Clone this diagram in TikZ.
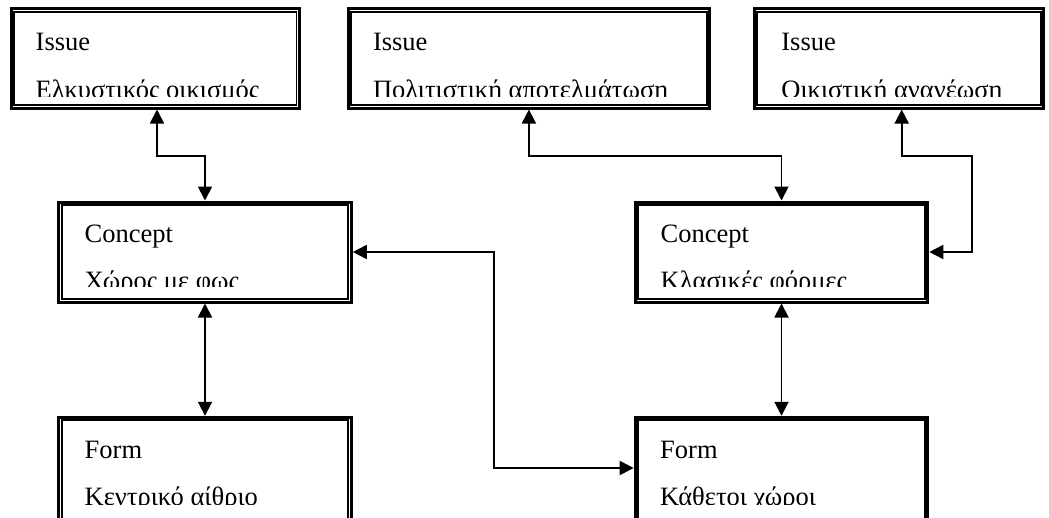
\documentclass[tikz,border=0pt]{standalone}
\usepackage{fontspec}
\setmainfont{Liberation Serif}
\usetikzlibrary{arrows.meta}

\tikzset{
  box/.style={draw, rectangle, line width=3pt, inner sep=0pt,
              minimum width=#1, minimum height=100pt},
  lbl/.style={anchor=base west, inner sep=0pt,
              font=\fontsize{26.5}{30}\selectfont},
  tip/.style={Triangle[length=14pt,width=14pt]},
  link/.style={line width=1.8pt, {Triangle[length=14pt,width=14pt]}-{Triangle[length=14pt,width=14pt]}},
}

% inner frame of a double-bordered box
\newcommand{\innerframe}[1]{%
  \draw[line width=1.7pt] ([shift={(4.5,4.5)}]#1.north west) rectangle ([shift={(-4.5,-4.5)}]#1.south east);}

\begin{document}
\begin{tikzpicture}[x=1pt, y=-1pt]
\clip (0,0) rectangle (1049,517);
\fill[white] (0,0) rectangle (1049,517);

% issue boxes
\node[box=288.2pt, minimum height=99.3pt] (i1) at (155.4,58.35) {};
\node[box=361.8pt, minimum height=99.3pt] (i2) at (528.9,58.35) {};
\node[box=289.8pt, minimum height=99.3pt] (i3) at (898.9,58.35) {};
% concept boxes
\node[box=292.6pt] (c1) at (205,252) {};
\node[box=292.6pt] (c2) at (781.5,252) {};
% form boxes, running past the lower edge
\node[box=292.6pt, minimum height=122.7pt] (f1) at (205,478.65) {};
\node[box=292.6pt, minimum height=122.7pt] (f2) at (781.5,478.65) {};

\foreach \b in {i1,i2,i3,c1,c2,f1,f2} {\innerframe{\b}}

% labels
\node[lbl] (i1a) at (35.5,50) {Issue};
\node[lbl] (i2a) at (372.8,50) {Issue};
\node[lbl] (i3a) at (781.2,50) {Issue};
\node[lbl] (c1a) at (84.5,242.3) {Concept};
\node[lbl] (c2a) at (660.5,242.3) {Concept};
\node[lbl] (f1a) at (84.5,458.3) {Form};
\node[lbl] (f2a) at (660,458.3) {Form};

% second lines, cut off above the inner frame
\begin{scope}
  \clip (0,60) rectangle (1049,96);
  \node[lbl] (i1b) at (35.5,98.5) {Ελκυστικός οικισμός};
  \node[lbl] (i2b) at (372.8,98.5) {Πολιτιστική αποτελμάτωση};
  \node[lbl] (i3b) at (781.2,98.5) {Οικιστική ανανέωση};
\end{scope}
\begin{scope}
  \clip (0,250) rectangle (1049,286);
  \node[lbl] (c1b) at (84.5,289.8) {Χώρος με φως};
  \node[lbl] (c2b) at (660.5,289.8) {Κλασικές φόρμες};
\end{scope}
\begin{scope}
  \clip (0,465) rectangle (1049,504);
  \node[lbl] (f1b) at (84.5,505.8) {Κεντρικό αίθριο};
  \node[lbl] (f2b) at (660,505.8) {Κάθετοι χώροι};
\end{scope}

% connectors
\coordinate (k3) at (972.3,156);
\coordinate (k6) at (494,468);
\draw[link] ([xshift=1.6pt]i1.south) -- ++(0,46.7) -| (c1.north);
\draw[link] (i2.south) -- ++(0,46.7) -| (c2.north);
\draw[link] ([xshift=2.8pt]i3.south) |- (k3) |- (c2.east);
\draw[link] (c1.south) -- (f1.north);
\draw[link] (c2.south) -- (f2.north);
\draw[link] (c1.east) -| (k6) -- (k6 -| f2.west);
\end{tikzpicture}
\end{document}
